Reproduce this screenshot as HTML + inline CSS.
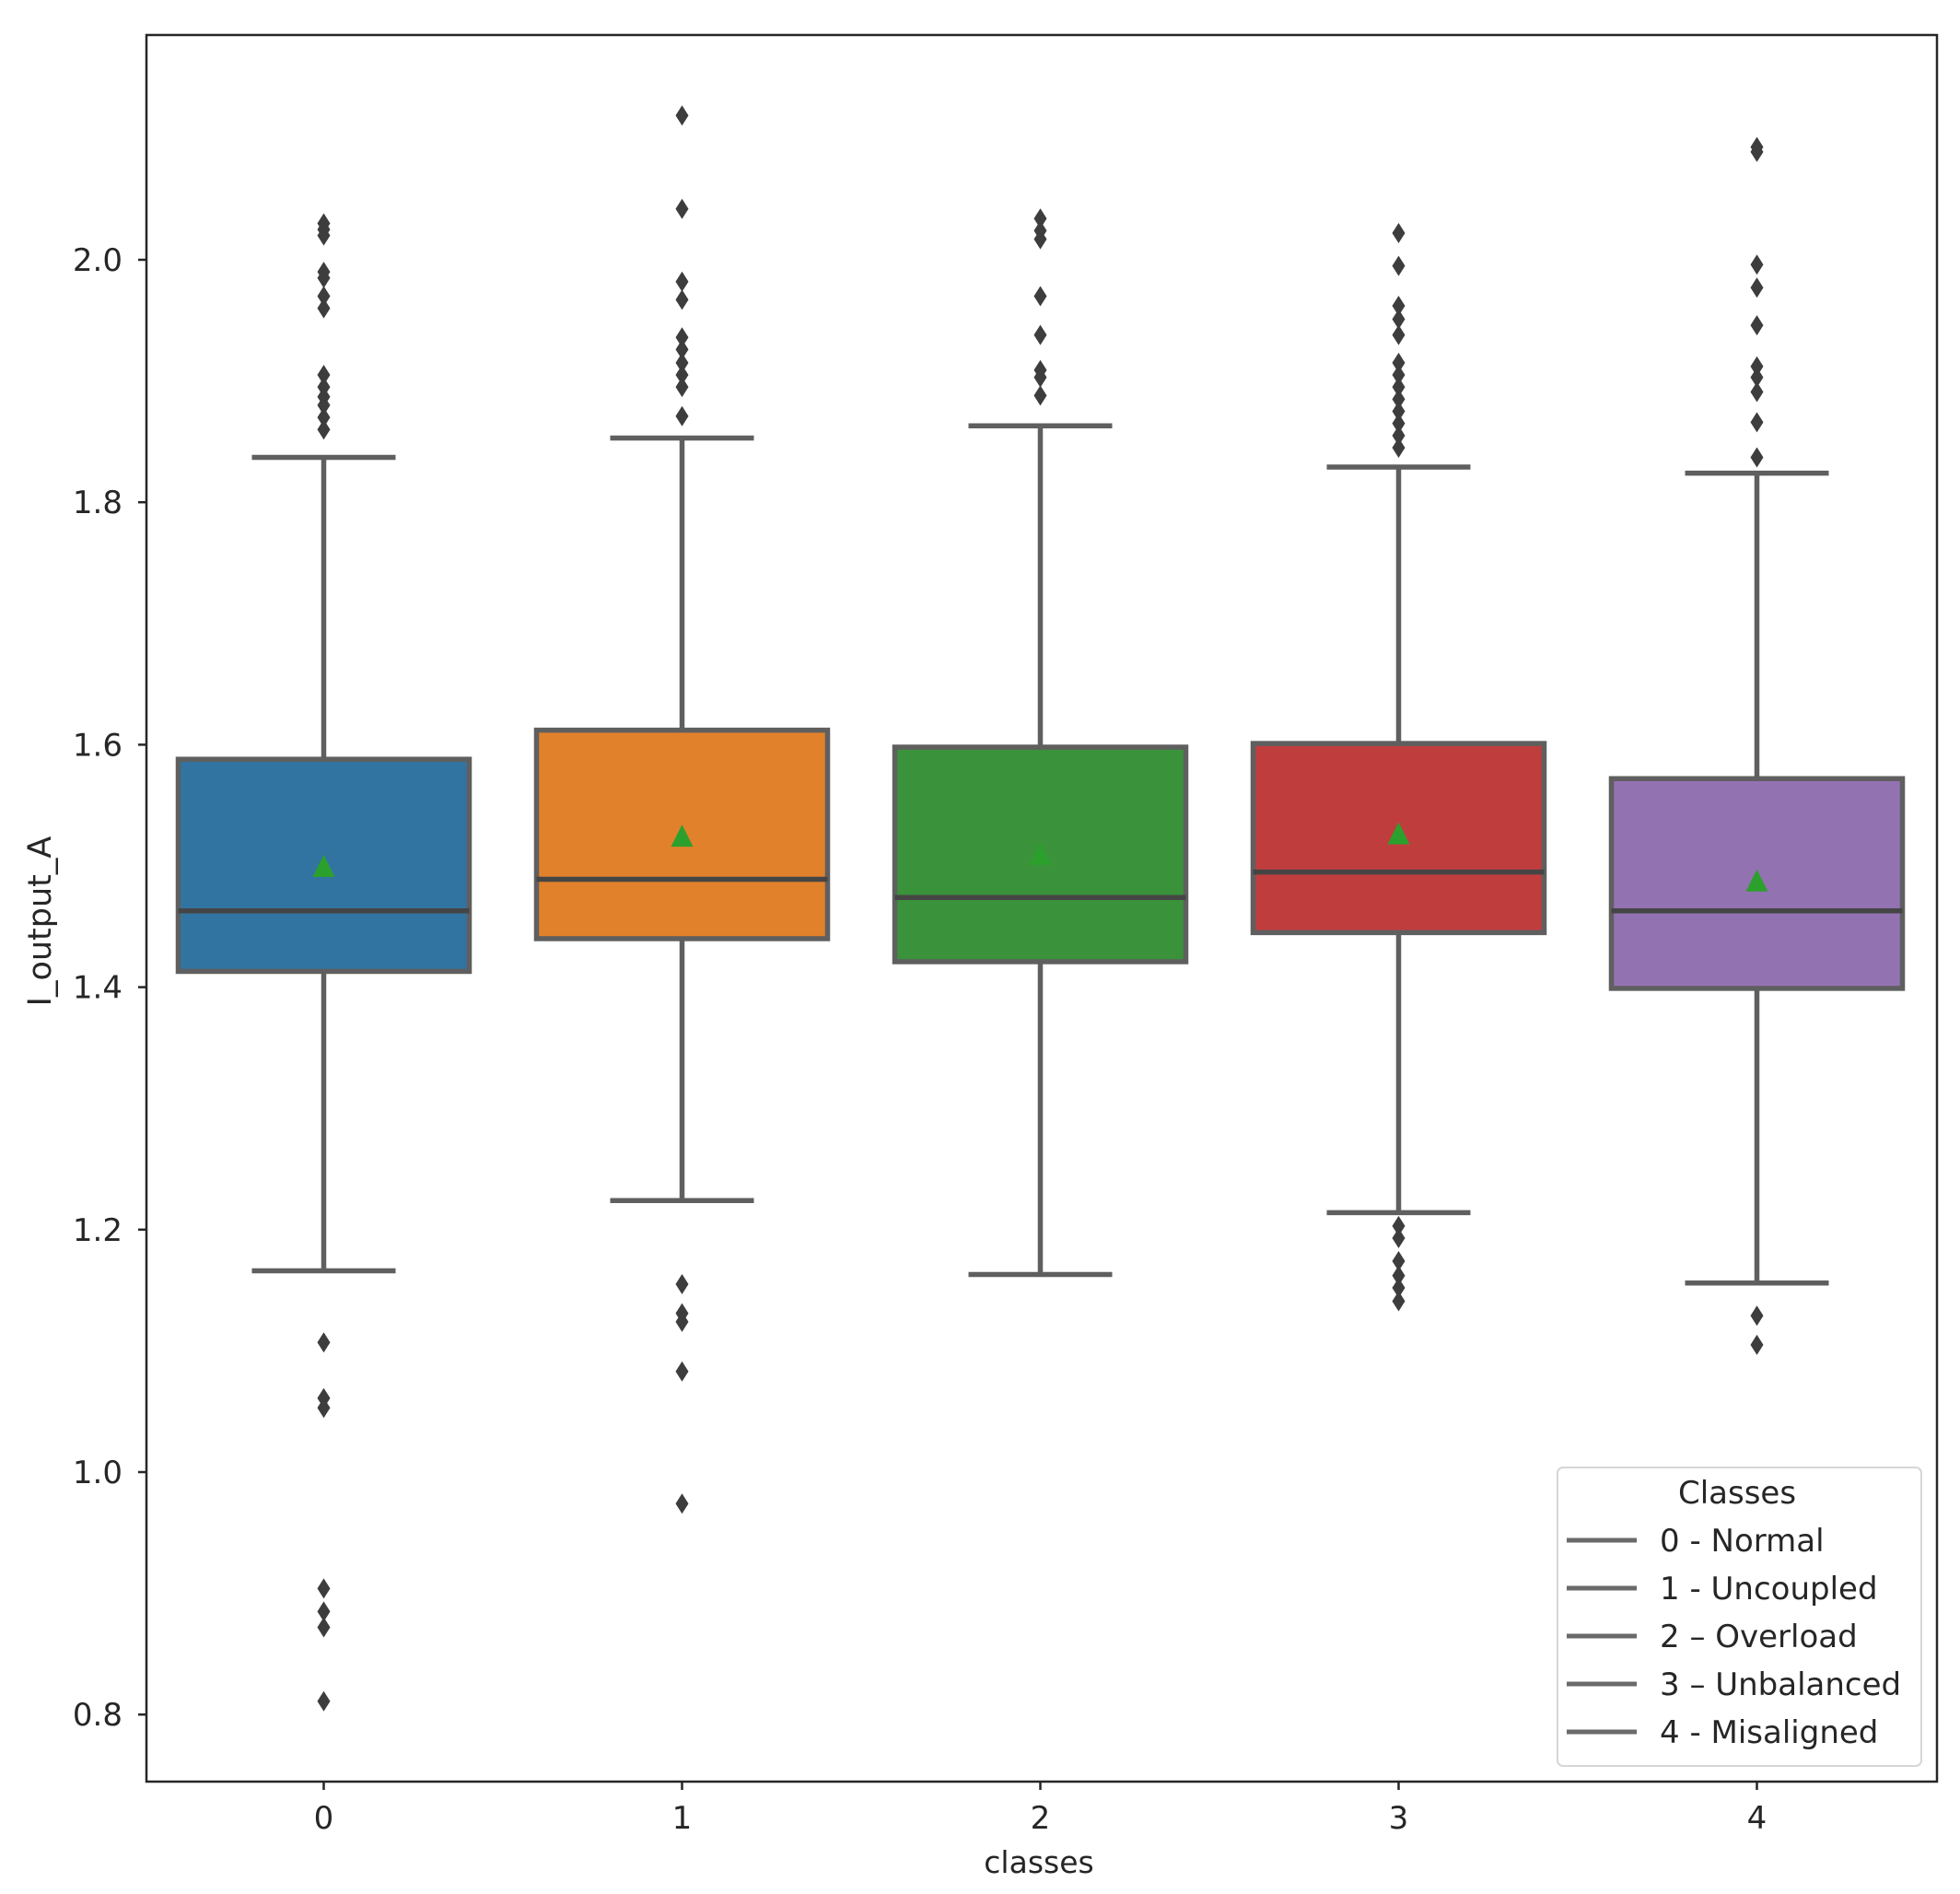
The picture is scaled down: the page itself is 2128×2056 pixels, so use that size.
<!DOCTYPE html>
<html><head><meta charset="utf-8"><style>
html,body{margin:0;padding:0;background:#fff;}
svg{display:block;font-family:"DejaVu Sans","Liberation Sans",sans-serif;}
</style></head><body>
<svg id="chart" width="2128" height="2056" viewBox="0 0 2128 2056" xmlns="http://www.w3.org/2000/svg">
<rect width="2128" height="2056" fill="#fff"/>
<g id="plot"></g>
<rect x="159" y="38" width="1944" height="1896" fill="none" stroke="#262626" stroke-width="2.5"/>
<text x="1128" y="2033" font-size="33" text-anchor="middle" fill="#262626">classes</text>
<text x="0" y="0" font-size="35" text-anchor="middle" fill="#262626" transform="translate(55,1000) rotate(-90)">I_output_A</text>
<g>
<rect x="1691" y="1593" width="395" height="324" rx="6" fill="#fff" fill-opacity="0.8" stroke="#d6d6d6" stroke-width="2"/>
<text x="1886" y="1632" font-size="34" text-anchor="middle" fill="#262626">Classes</text>
<g id="legend-entries"></g>
</g>
</svg>
<script>
const categories = ["0","1","2","3","4"];
const colors = ["#3274a1","#e1812c","#3a923a","#c03d3e","#9372b2"];
const q1 = [1.413,1.440,1.421,1.445,1.399];
const medians = [1.463,1.489,1.474,1.495,1.463];
const q3 = [1.588,1.612,1.598,1.601,1.572];
const means = [1.500,1.525,1.510,1.527,1.488];
const whiskerLo = [1.166,1.224,1.163,1.214,1.156];
const whiskerHi = [1.837,1.853,1.863,1.829,1.824];
const outliers = [
 [2.03,2.025,2.02,1.99,1.985,1.97,1.96,1.905,1.895,1.887,1.88,1.87,1.86,1.107,1.061,1.053,0.904,0.885,0.872,0.811],
 [2.119,2.042,1.982,1.967,1.936,1.926,1.915,1.905,1.895,1.871,1.155,1.131,1.124,1.083,0.974],
 [2.034,2.024,2.017,1.97,1.938,1.909,1.903,1.888],
 [2.022,1.995,1.962,1.951,1.938,1.915,1.905,1.895,1.885,1.875,1.865,1.855,1.845,1.203,1.193,1.174,1.162,1.152,1.141],
 [2.093,2.089,1.996,1.977,1.946,1.912,1.903,1.891,1.866,1.837,1.129,1.105]
];
const yTicks = [0.8,1.0,1.2,1.4,1.6,1.8,2.0];
const legendLabels = ["0 - Normal","1 - Uncoupled","2 \u2013 Overload","3 \u2013 Unbalanced","4 - Misaligned"];

const NS="http://www.w3.org/2000/svg";
function y(v){return 282+(2.0-v)*1316;}
function x(i){return 351.5+i*389;}
function mk(tag,attrs,parent){const e=document.createElementNS(NS,tag);for(const k in attrs)e.setAttribute(k,attrs[k]);parent.appendChild(e);return e;}
const plot=document.getElementById('plot');
const svg=document.getElementById('chart');
const line="#5f5f5f";
yTicks.forEach(t=>{
  const tk=mk('line',{x1:150,x2:159,y1:y(t),y2:y(t),stroke:'#262626','stroke-width':2.5},svg);
  
  
  const tx=mk('text',{x:133,y:y(t)+12,'font-size':34,'text-anchor':'end',fill:'#262626'},svg);
  tx.textContent=t.toFixed(1);
  
  
});
categories.forEach((c,i)=>{
  const cx=x(i);
  const tk=mk('line',{x1:cx,x2:cx,y1:1934,y2:1943,stroke:'#262626','stroke-width':2.5},svg);
  
  
  const tx=mk('text',{x:cx,y:1985,'font-size':34,'text-anchor':'middle',fill:'#262626'},svg);
  tx.textContent=c;
  
  
  const g=mk('g',{},plot);
  
  
  mk('line',{x1:cx,x2:cx,y1:y(q3[i]),y2:y(whiskerHi[i]),stroke:line,'stroke-width':5.5},g);
  mk('line',{x1:cx,x2:cx,y1:y(q1[i]),y2:y(whiskerLo[i]),stroke:line,'stroke-width':5.5},g);
  mk('line',{x1:cx-78,x2:cx+78,y1:y(whiskerHi[i]),y2:y(whiskerHi[i]),stroke:line,'stroke-width':5.5},g);
  mk('line',{x1:cx-78,x2:cx+78,y1:y(whiskerLo[i]),y2:y(whiskerLo[i]),stroke:line,'stroke-width':5.5},g);
  const b=mk('rect',{x:cx-158,y:y(q3[i]),width:316,height:y(q1[i])-y(q3[i]),fill:colors[i],stroke:line,'stroke-width':5.5},g);
  
  
  mk('line',{x1:cx-158,x2:cx+158,y1:y(medians[i]),y2:y(medians[i]),stroke:'#454545','stroke-width':5.5},g);
  const my=y(means[i]);
  const tri=mk('polygon',{points:`${cx-12},${my+12} ${cx+12},${my+12} ${cx},${my-12}`,fill:'#2ca02c'},g);
  
  
  outliers[i].forEach(v=>{
    const oy=y(v);
    const d=mk('polygon',{points:`${cx},${oy-11} ${cx+7},${oy} ${cx},${oy+11} ${cx-7},${oy}`,fill:'#3d3d3d'},g);
    
    
  });
});
const le=document.getElementById('legend-entries');
legendLabels.forEach((l,i)=>{
  const ly=1672+i*52;
  const ln=mk('line',{x1:1701,x2:1777,y1:ly,y2:ly,stroke:'#6a6a6a','stroke-width':5},le);
  
  
  const t=mk('text',{x:1802,y:ly+12,'font-size':34,fill:'#262626'},le);
  t.textContent=l;
  
  
});
</script>
</body></html>
